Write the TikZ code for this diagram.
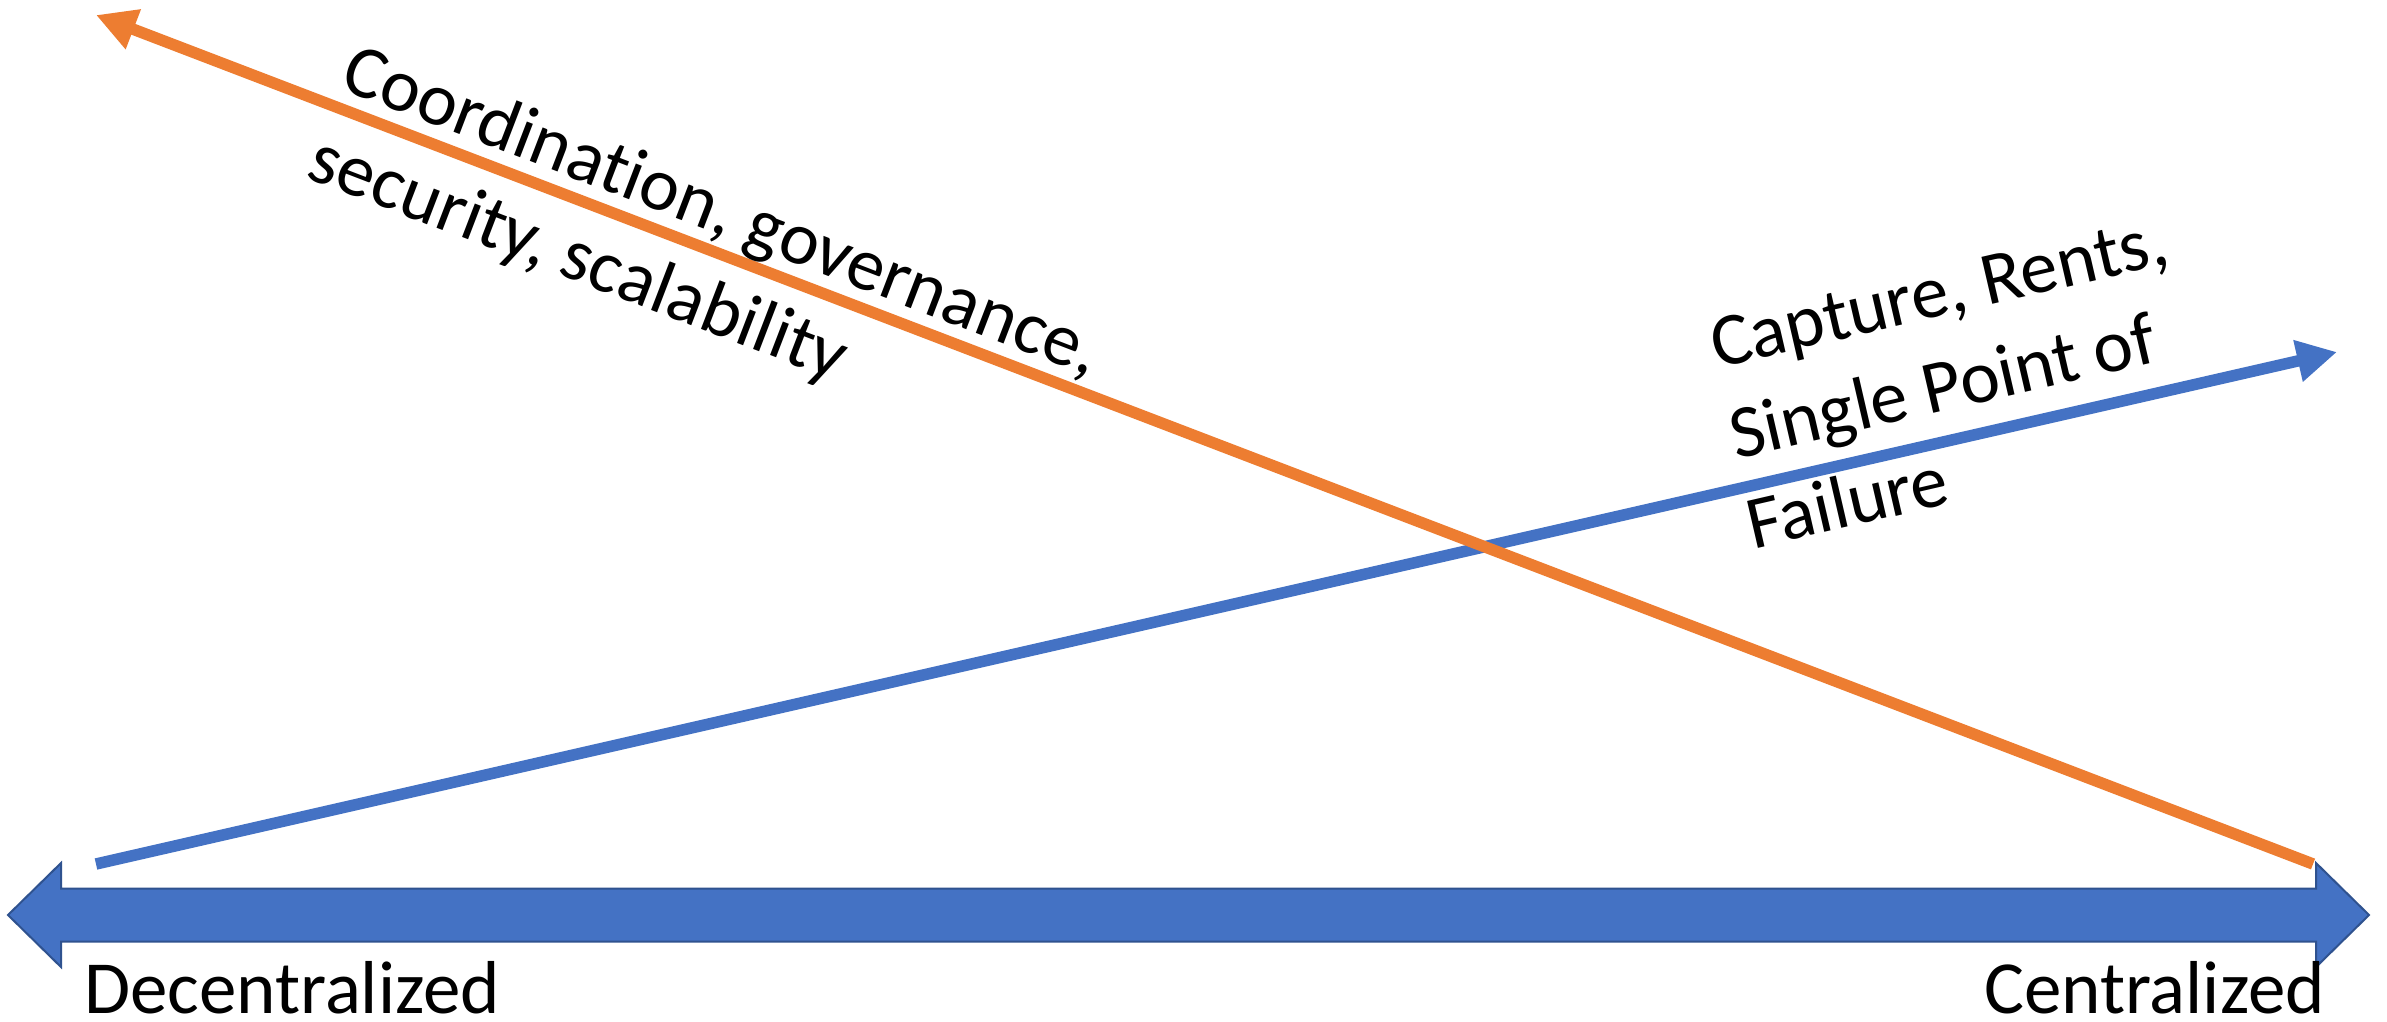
\documentclass[tikz,border=0pt]{standalone}
\usepackage{fontspec}
\setmainfont[Ligatures=NoCommon]{Carlito}
\usetikzlibrary{arrows.meta}
\definecolor{oblue}{HTML}{4472C4}
\definecolor{odark}{HTML}{2F528F}
\definecolor{oorange}{HTML}{ED7D31}
\begin{document}
\begin{tikzpicture}[x=1pt,y=-1pt,
  lbl/.style={inner sep=0pt, outer sep=0pt, anchor=base west, font=\fontsize{75}{91}\selectfont},
  trend/.style={line width=11.5pt, -{Triangle[length=40pt,width=40pt]}},
  axisarrow/.style={fill=oblue, draw=odark, line width=2pt, line join=miter}
]
\useasboundingbox (0,0) rectangle (2387,1021);
\fill[white] (0,0) rectangle (2387,1021);
% axis double arrow
\draw[axisarrow] (8,915) -- (61,863) -- (61,888.5) -- (2316,888.5) -- (2316,863) -- (2369,915)
  -- (2316,967) -- (2316,941.5) -- (61,941.5) -- (61,967) -- cycle;
% trend lines
\coordinate (bS) at (96,864);
\coordinate (bE) at (2337,352);
\coordinate (oS) at (2313,864);
\coordinate (oE) at (96,15);
\draw[trend, oblue] (bS) -- (bE);
\draw[trend, oorange] (oS) -- (oE);
% labels
\node[lbl, rotate=-21] (coord1) at (338,88) {Coordination, governance,};
\node[lbl, rotate=-21] (coord2) at (304,177) {security, scalability};
\node[lbl, rotate=13] (cap1) at (1717,368) {Capture, Rents,};
\node[lbl, rotate=13] (cap2) at (1736,459) {Single Point of};
\node[lbl, rotate=13] (cap3) at (1753,549) {Failure};
\node[lbl] (dec) at (84,1013) {Decentralized};
\node[lbl] (cen) at (1984,1013) {Centralized};
\end{tikzpicture}
\end{document}
